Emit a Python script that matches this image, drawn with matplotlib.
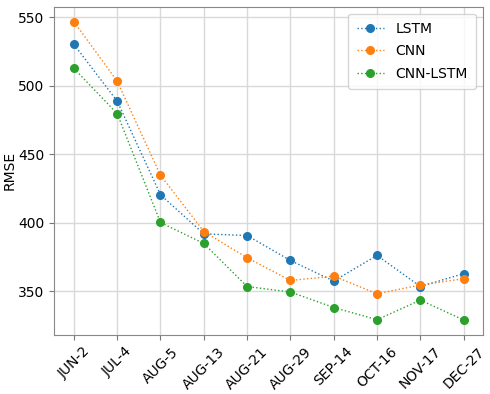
import matplotlib
matplotlib.use("Agg")
import matplotlib.pyplot as plt

# dates of the test sets
dates = ["JUN-2", "JUL-4", "AUG-5", "AUG-13", "AUG-21", "AUG-29",
         "SEP-14", "OCT-16", "NOV-17", "DEC-27"]

# RMSE per model
lstm = [530.2, 488.8, 420.5, 392.0, 390.8, 372.6, 357.6, 376.3, 353.6, 363.0]
cnn = [546.8, 503.3, 434.8, 393.7, 374.6, 358.0, 361.2, 348.3, 354.7, 359.3]
cnn_lstm = [512.7, 479.7, 400.3, 385.0, 353.6, 349.6, 338.3, 329.4, 343.7, 329.2]

fig, ax = plt.subplots(figsize=(4.9, 3.94), dpi=100)

ax.plot(dates, lstm, ":o", color="tab:blue", lw=1, ms=5.5, label="LSTM")
ax.plot(dates, cnn, ":o", color="tab:orange", lw=1, ms=5.5, label="CNN")
ax.plot(dates, cnn_lstm, ":o", color="tab:green", lw=1, ms=5.5, label="CNN-LSTM")

ax.set_ylabel("RMSE", fontsize=10, labelpad=1)
ax.tick_params(labelsize=10, color="#777777")
plt.xticks(rotation=45)
ax.grid(True, color="#d9d9d9", lw=1)
for s in ax.spines.values():
    s.set_color("#888888")
ax.legend(fontsize=10, borderpad=0.6, labelspacing=0.6)

fig.subplots_adjust(left=0.111, right=0.986, top=0.983, bottom=0.15)
fig.savefig("out.png")
